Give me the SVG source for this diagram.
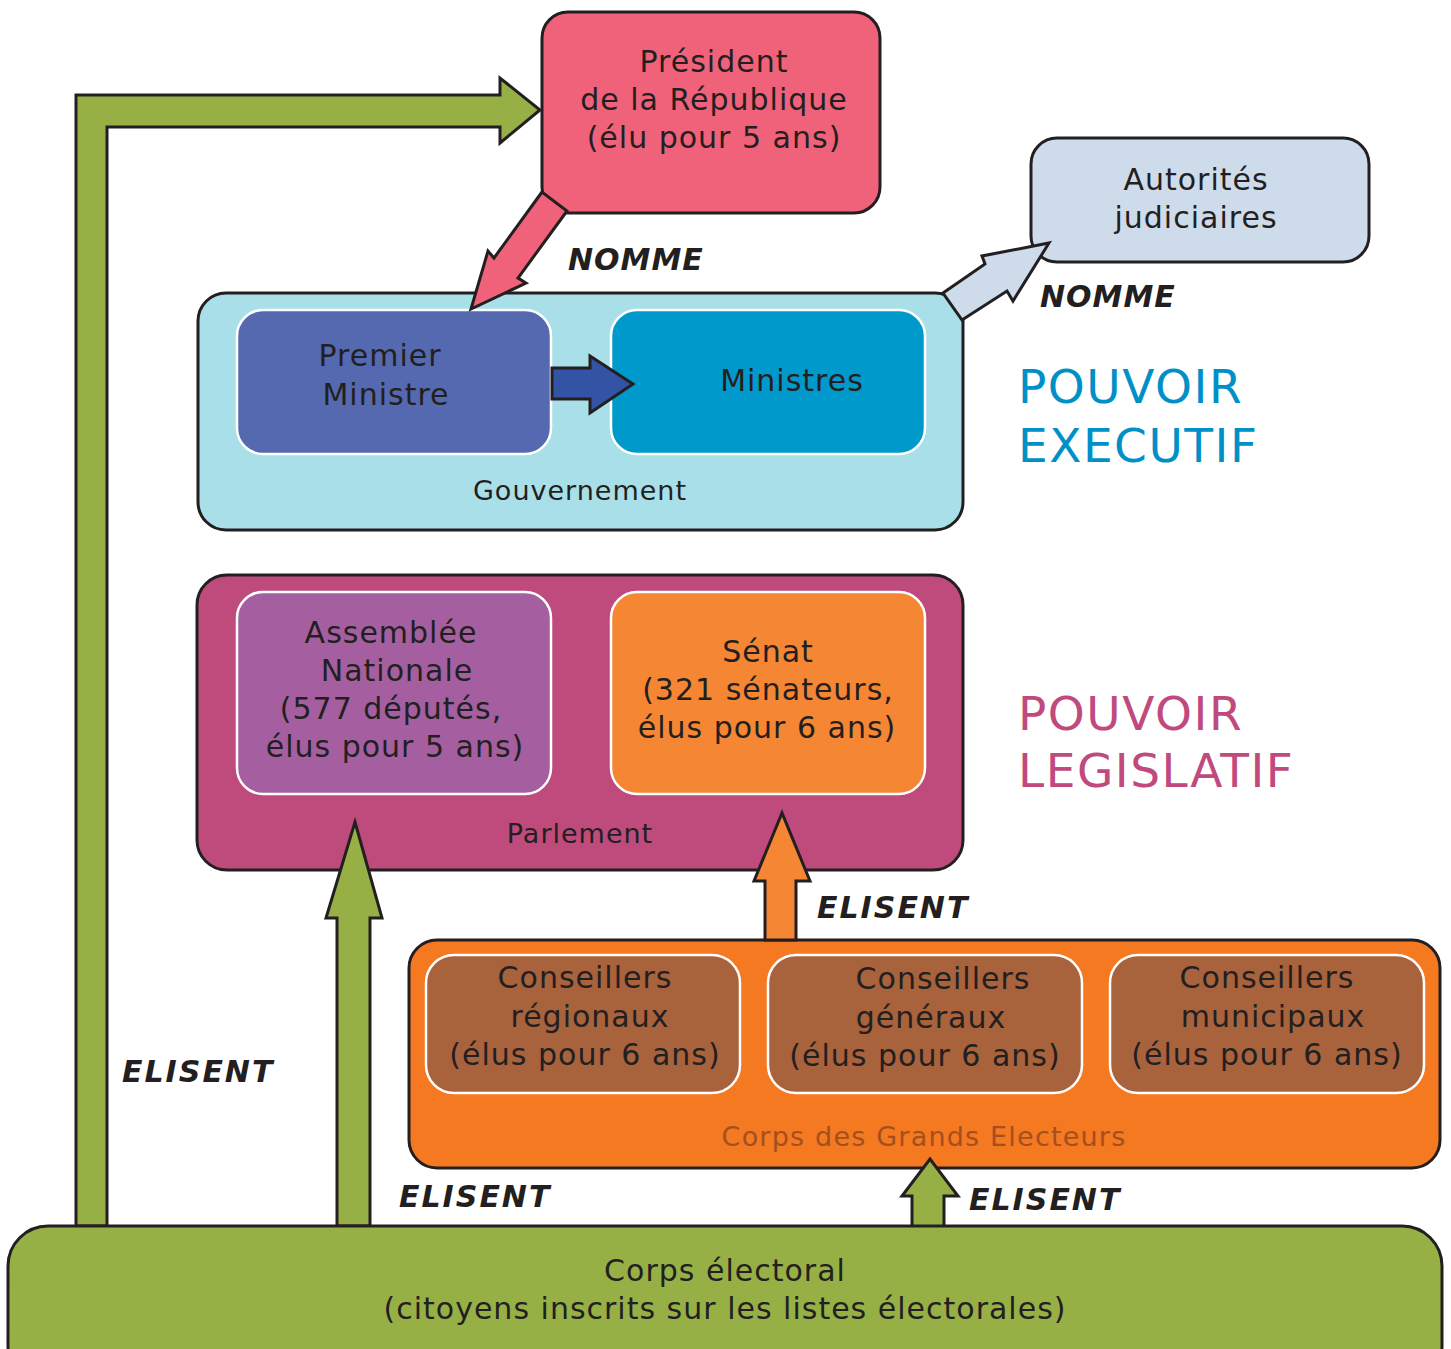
<svg xmlns="http://www.w3.org/2000/svg" width="1451" height="1349" viewBox="0 0 1451 1349">
<style>
.box{stroke:#231f20;stroke-width:3}
.inner{stroke:#ffffff;stroke-width:2.5}
.arr{stroke:#231f20;stroke-width:3;stroke-linejoin:miter}
text{font-family:"DejaVu Sans","Verdana",sans-serif;fill:#231f20;text-anchor:middle}
.t{font-size:30px;letter-spacing:1px}
.s{font-size:27px;letter-spacing:1px}
.lab{font-size:30px;font-weight:bold;font-style:italic;text-anchor:start}
.pw{font-size:47px;letter-spacing:1.5px;text-anchor:start}
</style>
<rect width="1451" height="1349" fill="#ffffff"/>
<g id="president">
<rect class="box" x="542" y="12" width="338" height="201" rx="26" fill="#f0627a"/>
<text class="t" x="714" y="72">Président</text>
<text class="t" x="714" y="110">de la République</text>
<text class="t" x="714" y="148">(élu pour 5 ans)</text>
</g>
<g id="autorites">
<rect class="box" x="1031" y="138" width="338" height="124" rx="26" fill="#cddbea"/>
<text class="t" x="1196" y="190">Autorités</text>
<text class="t" x="1196" y="228">judiciaires</text>
</g>
<g id="gouvernement">
<rect class="box" x="198" y="293" width="765" height="237" rx="28" fill="#a9dfe9"/>
<text class="s" x="580" y="500">Gouvernement</text>
</g>
<g id="premier-ministre">
<rect class="inner" x="237" y="310" width="314" height="144" rx="26" fill="#5569b0"/>
<text class="t" x="380" y="366">Premier</text>
<text class="t" x="386" y="405">Ministre</text>
</g>
<g id="ministres">
<rect class="inner" x="611" y="310" width="314" height="144" rx="26" fill="#0099cc"/>
<text class="t" x="792" y="391">Ministres</text>
</g>
<g id="parlement">
<rect class="box" x="197" y="575" width="766" height="295" rx="30" fill="#be4b7c"/>
<text class="s" x="580" y="843">Parlement</text>
</g>
<g id="assemblee">
<rect class="inner" x="237" y="592" width="314" height="202" rx="26" fill="#a55fa0"/>
<text class="t" x="391" y="643">Assemblée</text>
<text class="t" x="397" y="681">Nationale</text>
<text class="t" x="391" y="719">(577 députés,</text>
<text class="t" x="395" y="757">élus pour 5 ans)</text>
</g>
<g id="senat">
<rect class="inner" x="611" y="592" width="314" height="202" rx="26" fill="#f58634"/>
<text class="t" x="768" y="662">Sénat</text>
<text class="t" x="768" y="700">(321 sénateurs,</text>
<text class="t" x="767" y="738">élus pour 6 ans)</text>
</g>
<g id="pouvoirs">
<text class="pw" x="1018" y="403" style="fill:#0090c8">POUVOIR</text>
<text class="pw" x="1018" y="462" style="fill:#0090c8">EXECUTIF</text>
<text class="pw" x="1018" y="730" style="fill:#c0497d">POUVOIR</text>
<text class="pw" x="1018" y="787" style="fill:#c0497d">LEGISLATIF</text>
</g>
<g id="grands-electeurs">
<rect class="box" x="409" y="940" width="1031" height="228" rx="28" fill="#f47920"/>
<text class="s" x="924" y="1146" style="fill:#a34f20;letter-spacing:1.2px">Corps des Grands Electeurs</text>
</g>
<g id="conseillers-regionaux">
<rect class="inner" x="426" y="955" width="314" height="138" rx="28" fill="#a8623c"/>
<text class="t" x="585" y="988">Conseillers</text>
<text class="t" x="590" y="1027">régionaux</text>
<text class="t" x="585" y="1065">(élus pour 6 ans)</text>
</g>
<g id="conseillers-generaux">
<rect class="inner" x="768" y="955" width="314" height="138" rx="28" fill="#a8623c"/>
<text class="t" x="943" y="989">Conseillers</text>
<text class="t" x="931" y="1028">généraux</text>
<text class="t" x="925" y="1066">(élus pour 6 ans)</text>
</g>
<g id="conseillers-municipaux">
<rect class="inner" x="1110" y="955" width="314" height="138" rx="28" fill="#a8623c"/>
<text class="t" x="1267" y="988">Conseillers</text>
<text class="t" x="1273" y="1027">municipaux</text>
<text class="t" x="1267" y="1065">(élus pour 6 ans)</text>
</g>
<g id="connectors">
<polygon class="arr" fill="#97b046" points="76,1226 76,95 500,95 500,78 540,110 500,143 500,127 107,127 107,1226"/>
<polygon class="arr" fill="#f0627a" points="542,192 494,258 488,251 471,309 526,283 518,278 567,211"/>
<polygon class="arr" fill="#cddbea" points="943,293 985,264 982,256 1049,243 1013,301 1007,291 962,320"/>
<polygon class="arr" fill="#3453a4" points="552,368 590,368 590,356 633,384 590,413 590,399 552,399"/>
<polygon class="arr" fill="#f58634" points="765,940 765,881 754,881 782,813 810,881 796,881 796,940"/>
<polygon class="arr" fill="#97b046" points="337,1226 337,918 326,918 355,822 382,918 370,918 370,1226"/>
<polygon class="arr" fill="#97b046" points="912,1227 912,1196 902,1196 930,1159 958,1196 944,1196 944,1227"/>
<text class="lab" x="568" y="270" style="letter-spacing:1px">NOMME</text>
<text class="lab" x="1040" y="307" style="letter-spacing:1px">NOMME</text>
<text class="lab" x="817" y="918" style="letter-spacing:2px">ELISENT</text>
<text class="lab" x="122" y="1082" style="letter-spacing:2px">ELISENT</text>
<text class="lab" x="399" y="1207" style="letter-spacing:2px">ELISENT</text>
<text class="lab" x="969" y="1210" style="letter-spacing:2px">ELISENT</text>
</g>
<g id="corps-electoral">
<rect class="box" x="8" y="1226" width="1434" height="160" rx="40" fill="#97b046"/>
<text class="t" x="725" y="1281">Corps électoral</text>
<text class="t" x="725" y="1319">(citoyens inscrits sur les listes électorales)</text>
</g>
</svg>
